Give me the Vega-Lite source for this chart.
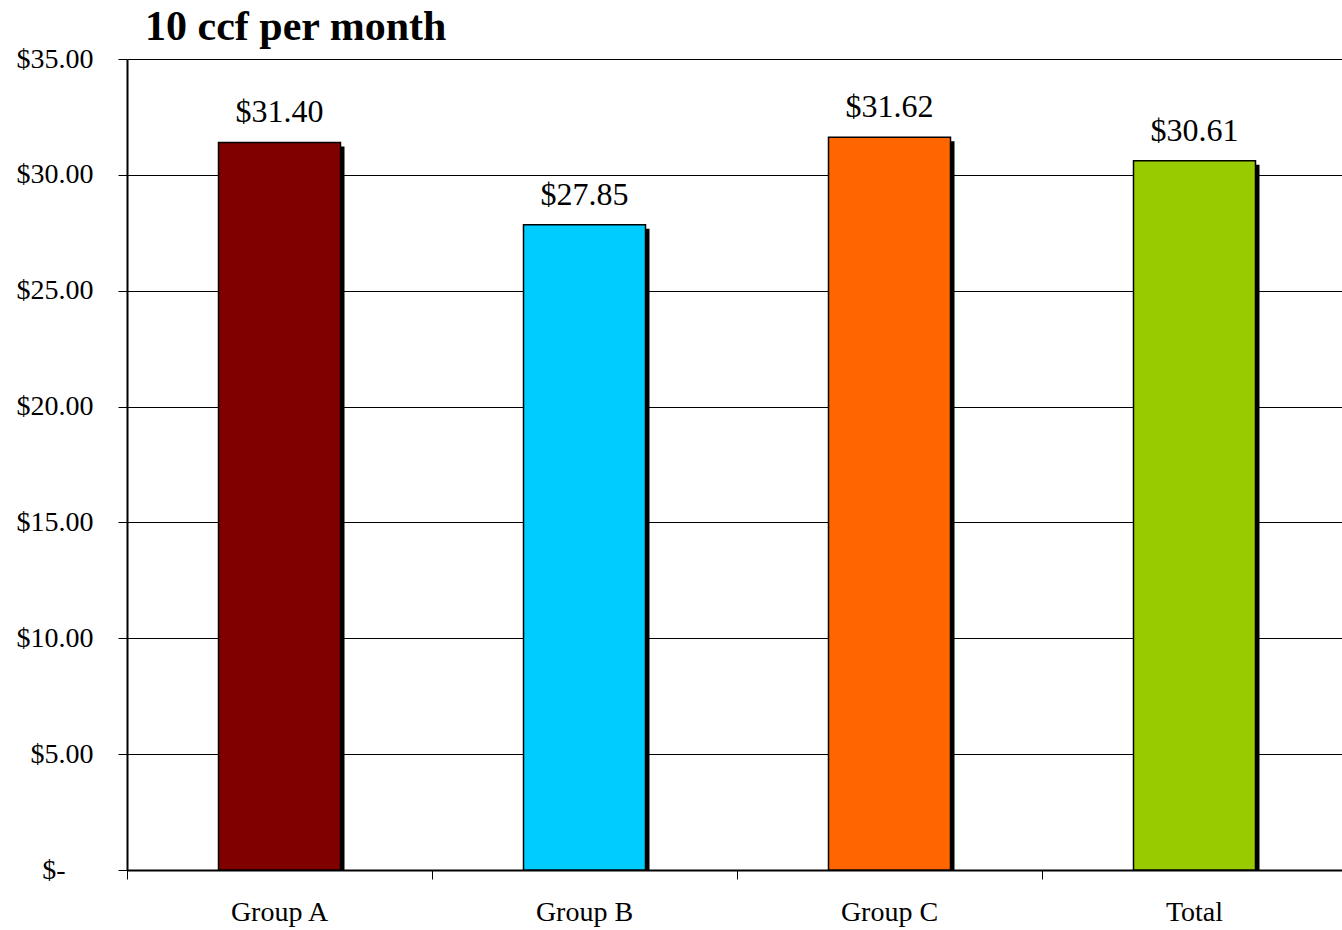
{
  "$schema": "https://vega.github.io/schema/vega-lite/v6.json",
  "width": 1220,
  "height": 811,
  "autosize": {"type": "none"},
  "padding": {"left": 127, "top": 59, "right": -5, "bottom": 60},
  "background": "white",
  "title": {
    "text": "10 ccf per month",
    "anchor": "start",
    "frame": "group",
    "dx": 18,
    "offset": -37,
    "baseline": "alphabetic",
    "font": "Liberation Serif",
    "fontSize": 42,
    "fontWeight": "bold",
    "color": "black"
  },
  "config": {
    "view": {"stroke": null},
    "axis": {"labelFont": "Liberation Serif", "labelColor": "black"}
  },
  "data": {
    "values": [
      {"group": "Group A", "cost": 31.40, "color": "#800000"},
      {"group": "Group B", "cost": 27.85, "color": "#00CCFF"},
      {"group": "Group C", "cost": 31.62, "color": "#FF6600"},
      {"group": "Total", "cost": 30.61, "color": "#99CC00"}
    ]
  },
  "encoding": {
    "x": {
      "field": "group",
      "type": "nominal",
      "sort": null,
      "scale": {"paddingInner": 0.6, "paddingOuter": 0.3},
      "axis": {
        "title": null,
        "labelAngle": 0,
        "labelFontSize": 28,
        "labelBaseline": "alphabetic",
        "labelPadding": 41,
        "tickSize": 9,
        "tickColor": "black",
        "domainColor": "black",
        "domainWidth": 2,
        "bandPosition": -0.75
      }
    },
    "y": {
      "field": "cost",
      "type": "quantitative",
      "scale": {"domain": [0, 35], "nice": false},
      "axis": {
        "title": null,
        "values": [0, 5, 10, 15, 20, 25, 30, 35],
        "labelExpr": "datum.value == 0 ? '$-' : '$' + format(datum.value, '.2f')",
        "labelFontSize": 28,
        "labelPadding": {"condition": {"test": "datum.value == 0", "value": 53}, "value": 25},
        "tickSize": 9,
        "tickColor": "black",
        "domainColor": "black",
        "domainWidth": 2,
        "grid": true,
        "gridColor": "black",
        "gridWidth": 1,
        "gridOpacity": 1
      }
    }
  },
  "layer": [
    {
      "mark": {"type": "bar", "color": "black", "clip": true, "xOffset": 4, "x2Offset": 4, "yOffset": 4, "y2Offset": 4}
    },
    {
      "mark": {"type": "bar", "stroke": "black", "strokeWidth": 1.5},
      "encoding": {
        "color": {"field": "color", "type": "nominal", "scale": null, "legend": null}
      }
    },
    {
      "mark": {"type": "text", "baseline": "alphabetic", "dy": -20, "font": "Liberation Serif", "fontSize": 32, "color": "black"},
      "encoding": {
        "text": {"field": "cost", "type": "quantitative", "format": "$.2f"}
      }
    }
  ]
}
